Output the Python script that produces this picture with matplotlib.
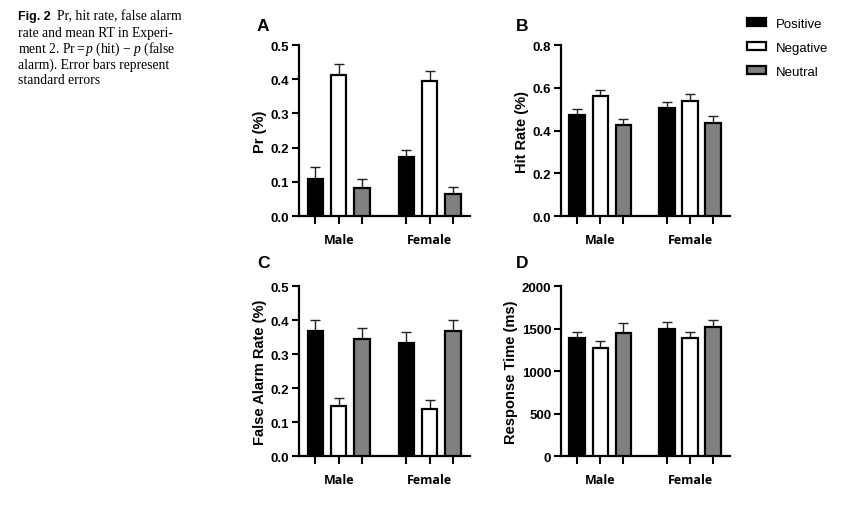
import numpy as np
import matplotlib.pyplot as plt
from matplotlib.patches import Patch

plt.rcParams['font.family'] = ['Liberation Sans', 'DejaVu Sans']
plt.rcParams['mathtext.fontset'] = 'custom'
plt.rcParams['mathtext.rm'] = 'Liberation Serif'
plt.rcParams['mathtext.it'] = 'Liberation Serif:italic'

# data (means and SE)
groups = ['Male', 'Female']
conditions = ['Positive', 'Negative', 'Neutral']

pr_mean = {'Positive': [0.108, 0.172], 'Negative': [0.412, 0.396], 'Neutral': [0.081, 0.065]}
pr_se = {'Positive': [0.034, 0.021], 'Negative': [0.032, 0.029], 'Neutral': [0.027, 0.021]}

hit_mean = {'Positive': [0.475, 0.504], 'Negative': [0.562, 0.537], 'Neutral': [0.425, 0.435]}
hit_se = {'Positive': [0.027, 0.028], 'Negative': [0.028, 0.032], 'Neutral': [0.028, 0.032]}

fa_mean = {'Positive': [0.367, 0.331], 'Negative': [0.148, 0.139], 'Neutral': [0.343, 0.367]}
fa_se = {'Positive': [0.034, 0.033], 'Negative': [0.022, 0.027], 'Neutral': [0.033, 0.033]}

rt_mean = {'Positive': [1384, 1494], 'Negative': [1267, 1392], 'Neutral': [1447, 1522]}
rt_se = {'Positive': [79, 79], 'Negative': [82, 71], 'Neutral': [114, 82]}

colors = {'Positive': 'black', 'Negative': 'white', 'Neutral': '#808080'}

# bar layout
pos = {'Positive': [1.05, 6.9], 'Negative': [2.55, 8.4], 'Neutral': [4.05, 9.9]}
group_centers = [2.55, 8.4]

fig = plt.figure(figsize=(8.61, 5.06), dpi=100)

panels = [
    ('A', [0.3473, 0.5711, 0.1986, 0.3379], pr_mean, pr_se, 'Pr (%)', 0.5, 0.1, '{:.1f}'),
    ('B', [0.6516, 0.5711, 0.1963, 0.3379], hit_mean, hit_se, 'Hit Rate (%)', 0.8, 0.2, '{:.1f}'),
    ('C', [0.3473, 0.0968, 0.1986, 0.3360], fa_mean, fa_se, 'False Alarm Rate (%)', 0.5, 0.1, '{:.1f}'),
    ('D', [0.6516, 0.0968, 0.1963, 0.3360], rt_mean, rt_se, 'Response Time (ms)', 2000, 500, '{:.0f}'),
]
letter_xy = {'A': (257, 19), 'B': (516, 19), 'C': (257, 256), 'D': (516, 256)}

for letter, rect, mean, se, ylab, ymax, ystep, fmt in panels:
    ax = fig.add_axes(rect)
    for c in conditions:
        ax.bar(pos[c], mean[c], width=1.0, color=colors[c], edgecolor='black', linewidth=1.6, zorder=3)
        ax.errorbar(pos[c], mean[c], yerr=[np.zeros(2), se[c]], fmt='none', ecolor='#222222',
                    elinewidth=1.0, capsize=3.5, capthick=1.0, zorder=2)
    ax.set_xlim(0, 11)
    ax.set_ylim(0, ymax)
    yt = np.arange(0, ymax + ystep / 2, ystep)
    ax.set_yticks(yt)
    ax.set_yticklabels([fmt.format(v) for v in yt], fontweight='bold', fontsize=9.5)
    ax.xaxis.remove_overlapping_locs = False
    ax.set_xticks(sum([pos[c] for c in conditions], []))
    ax.set_xticklabels([])
    ax.set_xticks(group_centers, minor=True)
    ax.set_xticklabels(groups, minor=True, fontweight='bold', fontsize=9, family='Open Sans')
    ax.tick_params(axis='x', which='major', length=6, width=1.5)
    ax.tick_params(axis='x', which='minor', length=0, pad=12.5)
    ax.tick_params(axis='y', length=5, width=1.5, pad=2)
    ax.set_ylabel(ylab, fontweight='bold', fontsize=10.5, labelpad=3)
    for s in ['top', 'right']:
        ax.spines[s].set_visible(False)
    for s in ['left', 'bottom']:
        ax.spines[s].set_linewidth(1.6)
    lx, ly = letter_xy[letter]
    fig.text(lx / 861, 1 - ly / 506, letter, fontsize=12.5, fontweight='bold', ha='left', va='top')

handles = [Patch(facecolor=colors[c], edgecolor='black', linewidth=1.6, label=c) for c in conditions]
fig.legend(handles=handles, loc='upper left', bbox_to_anchor=(735 / 861, 1 - 7 / 506), frameon=False,
           fontsize=9.5, handlelength=1.45, handleheight=0.55, handletextpad=0.75, labelspacing=0.9)

# caption
fig.text(18 / 861, 1 - 17 / 506, 'Fig. 2', fontsize=9, fontweight='bold', va='center', ha='left')
cap_lines = [
    (57, 17, 'Pr, hit rate, false alarm'),
    (18, 33, 'rate and mean RT in Experi-'),
    (18, 49, r'ment 2. Pr$\,$=$\,p$ (hit) $-$ $p$ (false'),
    (18, 65, 'alarm). Error bars represent'),
    (18, 81, 'standard errors'),
]
for x, y, t in cap_lines:
    fig.text(x / 861, 1 - y / 506, t, fontsize=9.8, family='Liberation Serif', va='center', ha='left')

fig.savefig('out.png', dpi=100)
